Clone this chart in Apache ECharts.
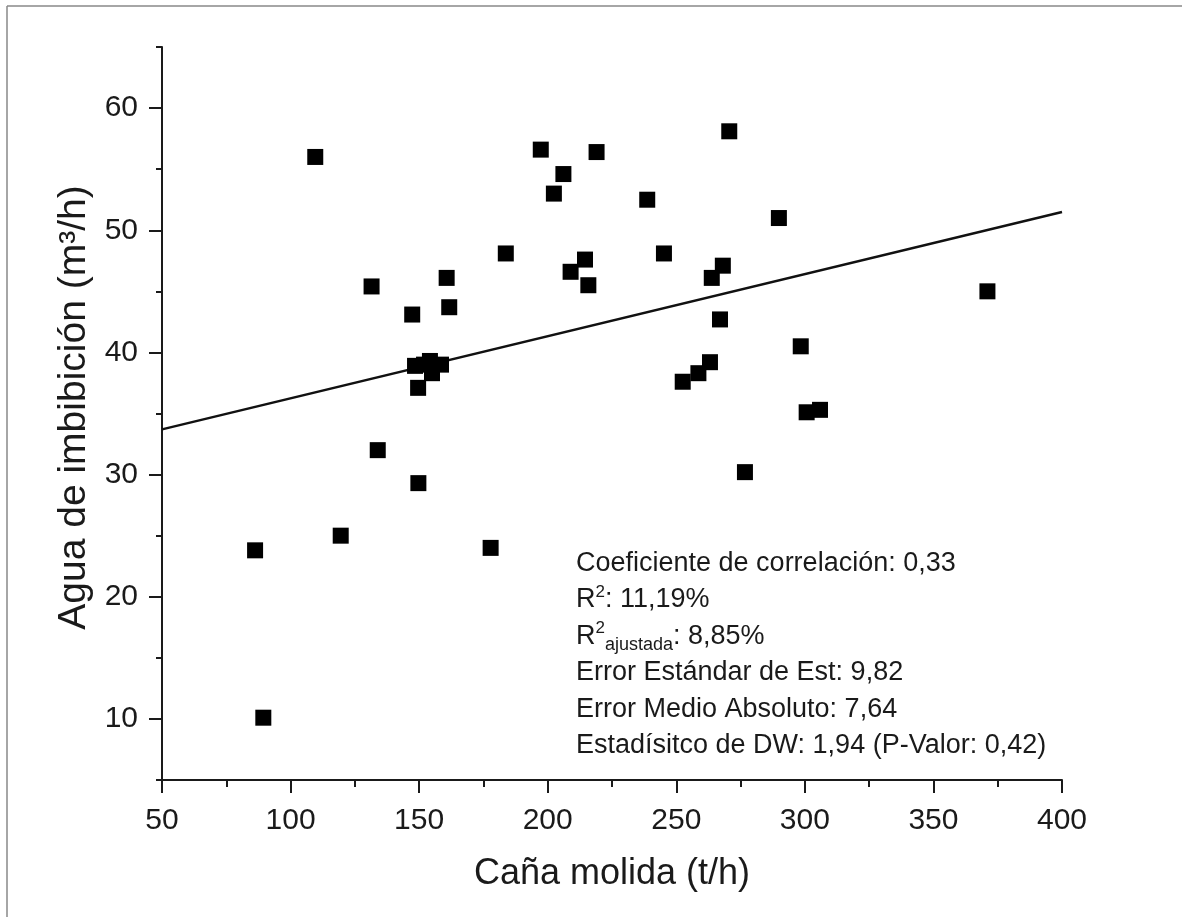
<!DOCTYPE html>
<html>
<head>
<meta charset="utf-8">
<script src="https://cdn.jsdelivr.net/npm/echarts@6/dist/echarts.min.js"></script>
<style>
  html, body { margin: 0; padding: 0; background: #fff; }
  #main { width: 1182px; height: 917px; }
</style>
</head>
<body>
<div id="main"></div>
<script>
// Caña molida (t/h)
const canaMolida = [86.2, 89.4, 109.6, 119.5, 131.5, 133.9, 147.3, 148.4, 149.6, 149.7,
  151.9, 154.2, 155.0, 158.5, 160.7, 161.7, 177.8, 183.7, 197.3, 202.4,
  206.1, 208.9, 214.5, 215.8, 219.0, 238.7, 245.2, 252.5, 258.6, 263.1,
  263.8, 267.0, 268.1, 270.6, 276.7, 289.9, 298.4, 300.7, 305.9, 371.0];
// Agua de imbibición (m3/h)
const aguaImbibicion = [23.8, 10.1, 56.0, 25.0, 45.4, 32.0, 43.1, 38.9, 37.1, 29.3,
  39.0, 39.3, 38.3, 39.0, 46.1, 43.7, 24.0, 48.1, 56.6, 53.0,
  54.6, 46.6, 47.6, 45.5, 56.4, 52.5, 48.1, 37.6, 38.3, 39.2,
  46.1, 42.7, 47.1, 58.1, 30.2, 51.0, 40.5, 35.1, 35.3, 45.0];
// recta de ajuste
const ajusteX = [50, 400];
const ajusteY = [33.7, 51.5];

const yLabels = [10, 20, 30, 40, 50, 60];
const yMinor = [5, 15, 25, 35, 45, 55, 65];

const statLines = [
  'Coeficiente de correlación: 0,33',
  'R{sup|2}: 11,19%',
  'R{sup|2}{sub|ajustada}: 8,85%',
  'Error Estándar de Est: 9,82',
  'Error Medio Absoluto: 7,64',
  'Estadísitco de DW: 1,94 (P-Valor: 0,42)'
];

const font = "'Liberation Sans', Arial, sans-serif";
const ink = '#1a1a1a';
const myChart = echarts.init(document.getElementById('main'));

const option = {
  backgroundColor: '#fff',
  animation: false,
  grid: { left: 162, right: 120, top: 47, bottom: 137 },
  xAxis: {
    type: 'value',
    min: 50,
    max: 400,
    interval: 50,
    name: 'Caña molida (t/h)',
    nameLocation: 'middle',
    nameGap: 76,
    nameTextStyle: { fontFamily: font, fontSize: 36, color: ink },
    axisLine: { lineStyle: { color: ink, width: 2 } },
    axisTick: { length: 13, lineStyle: { color: ink, width: 2 } },
    minorTick: { show: true, splitNumber: 2, length: 7, lineStyle: { color: ink, width: 2 } },
    axisLabel: { fontFamily: font, fontSize: 30, color: ink, margin: 26 },
    splitLine: { show: false }
  },
  yAxis: [
    {
      type: 'value',
      min: 5,
      max: 65,
      name: 'Agua de imbibición (m³/h)',
      nameLocation: 'middle',
      nameGap: 68,
      nameTextStyle: { fontFamily: font, fontSize: 39, color: ink, padding: [0, 0, 0, 12] },
      axisLine: { show: true, lineStyle: { color: ink, width: 2 } },
      axisTick: { show: true, customValues: yLabels, length: 13, lineStyle: { color: ink, width: 2 } },
      axisLabel: { customValues: yLabels, fontFamily: font, fontSize: 30, color: ink, margin: 24 },
      splitLine: { show: false }
    },
    {
      type: 'value',
      min: 5,
      max: 65,
      position: 'left',
      axisLine: { show: false },
      axisTick: { show: true, customValues: yMinor, length: 6, lineStyle: { color: ink, width: 2 } },
      axisLabel: { show: false },
      splitLine: { show: false }
    }
  ],
  graphic: [
    {
      type: 'line',
      shape: { x1: 7, y1: 6, x2: 1182, y2: 6 },
      style: { stroke: '#888', lineWidth: 1.5 }
    },
    {
      type: 'line',
      shape: { x1: 7, y1: 6, x2: 7, y2: 917 },
      style: { stroke: '#888', lineWidth: 1.5 }
    },
    {
      type: 'text',
      left: 576,
      top: 545,
      style: {
        text: statLines.join('\n'),
        font: '27px ' + font,
        fill: ink,
        lineHeight: 36.5,
        rich: {
          sup: { fontFamily: font, fontSize: 17, fill: ink, verticalAlign: 'top', padding: [2, 0, 0, 0] },
          sub: { fontFamily: font, fontSize: 18, fill: ink, verticalAlign: 'bottom' }
        }
      }
    }
  ],
  series: [
    {
      name: 'ajuste',
      type: 'line',
      data: ajusteX.map((x, i) => [x, ajusteY[i]]),
      showSymbol: false,
      lineStyle: { color: '#111', width: 2.5 },
      z: 2
    },
    {
      name: 'datos',
      type: 'scatter',
      data: canaMolida.map((x, i) => [x, aguaImbibicion[i]]),
      symbol: 'rect',
      symbolSize: 16,
      itemStyle: { color: '#000', opacity: 1 },
      z: 3
    }
  ]
};
myChart.setOption(option);
</script>
</body>
</html>
